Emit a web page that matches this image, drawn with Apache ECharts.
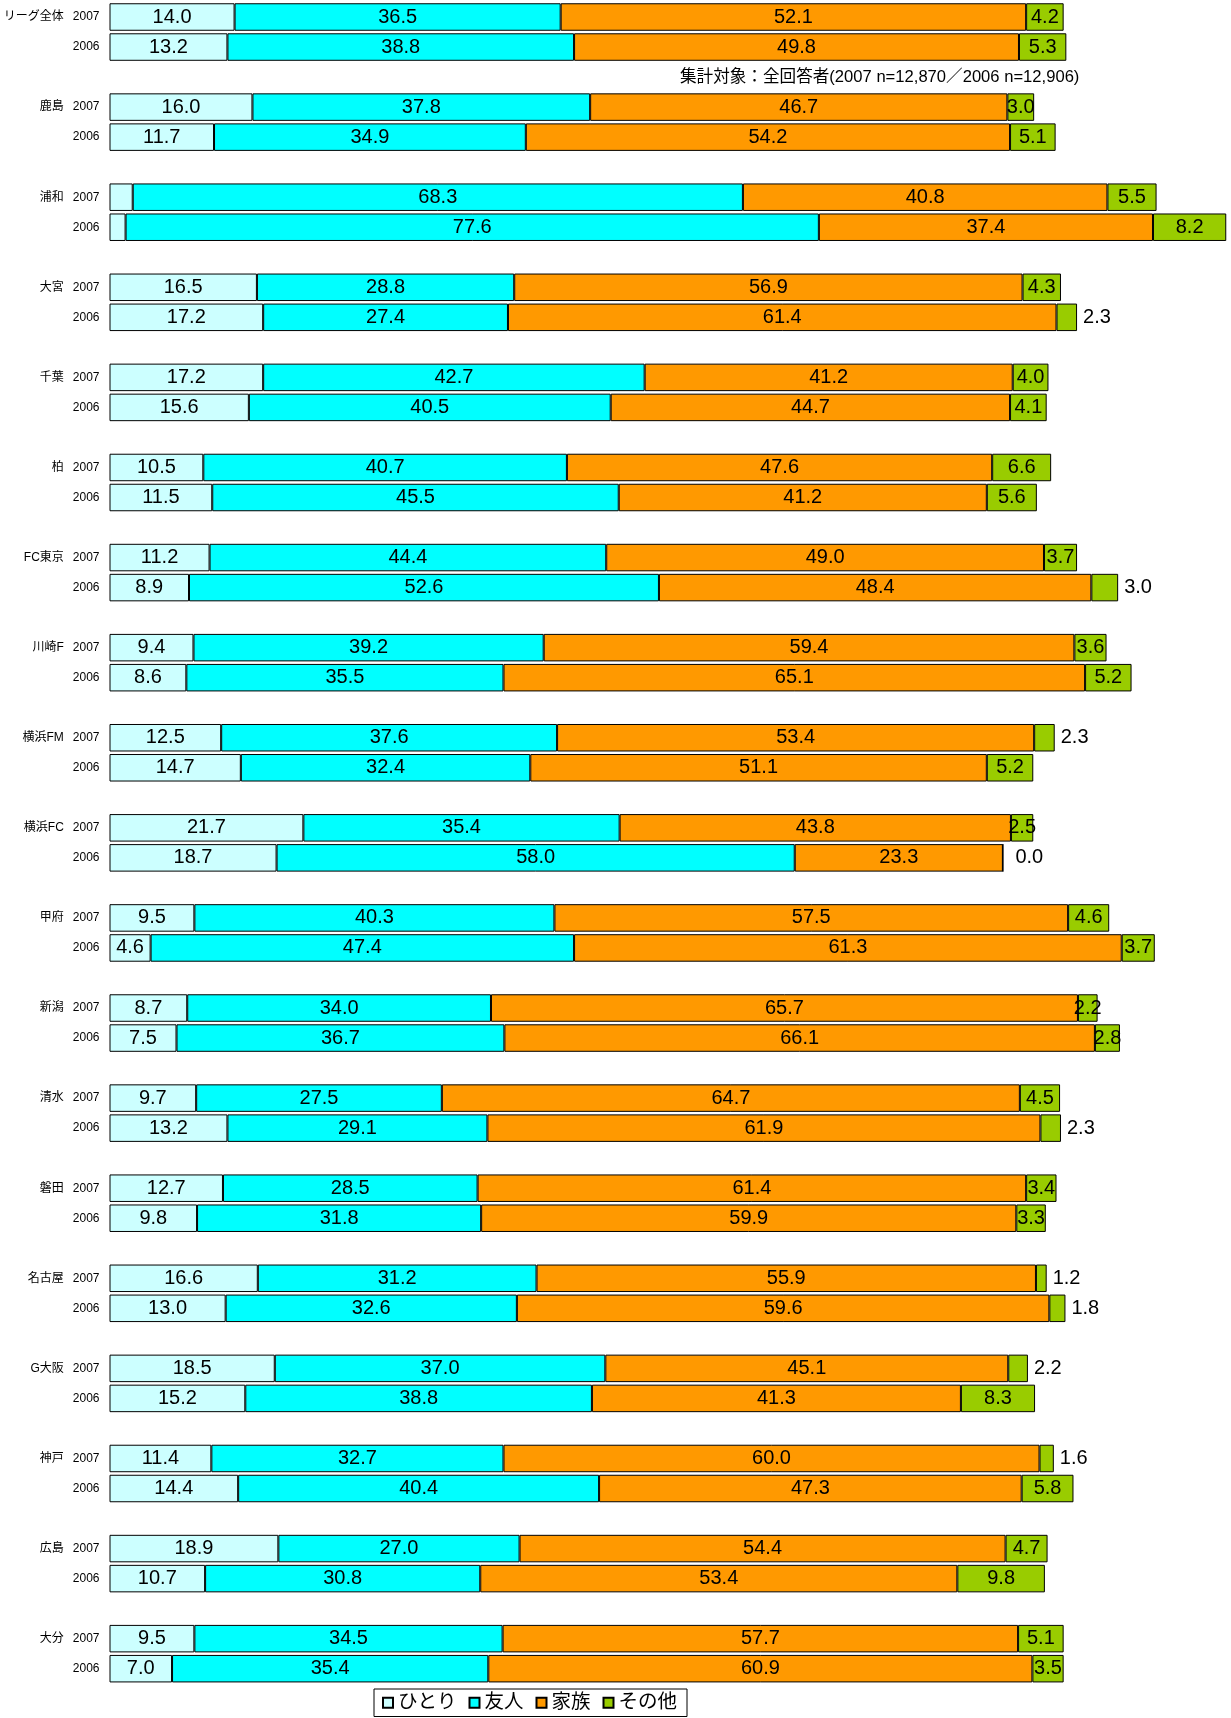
<!DOCTYPE html>
<html><head><meta charset="utf-8">
<script src="https://cdn.jsdelivr.net/npm/echarts/dist/echarts.min.js"></script>
<style>html,body{margin:0;padding:0;background:#fff}#c{width:1231px;height:1718px}</style>
</head><body><div id="c"></div>
<script>
const teams = ['リーグ全体','鹿島','浦和','大宮','千葉','柏','FC東京','川崎F','横浜FM','横浜FC','甲府','新潟','清水','磐田','名古屋','G大阪','神戸','広島','大分'];
const years = ['2007','2006'];
const seriesNames = ['ひとり','友人','家族','その他'];
const hitori07 = [14.0,16.0,2.6,16.5,17.2,10.5,11.2,9.4,12.5,21.7,9.5,8.7,9.7,12.7,16.6,18.5,11.4,18.9,9.5];
const hitori06 = [13.2,11.7,1.8,17.2,15.6,11.5,8.9,8.6,14.7,18.7,4.6,7.5,13.2,9.8,13.0,15.2,14.4,10.7,7.0];
const yujin07 = [36.5,37.8,68.3,28.8,42.7,40.7,44.4,39.2,37.6,35.4,40.3,34.0,27.5,28.5,31.2,37.0,32.7,27.0,34.5];
const yujin06 = [38.8,34.9,77.6,27.4,40.5,45.5,52.6,35.5,32.4,58.0,47.4,36.7,29.1,31.8,32.6,38.8,40.4,30.8,35.4];
const kazoku07 = [52.1,46.7,40.8,56.9,41.2,47.6,49.0,59.4,53.4,43.8,57.5,65.7,64.7,61.4,55.9,45.1,60.0,54.4,57.7];
const kazoku06 = [49.8,54.2,37.4,61.4,44.7,41.2,48.4,65.1,51.1,23.3,61.3,66.1,61.9,59.9,59.6,41.3,47.3,53.4,60.9];
const sonota07 = [4.2,3.0,5.5,4.3,4.0,6.6,3.7,3.6,2.3,2.5,4.6,2.2,4.5,3.4,1.2,2.2,1.6,4.7,5.1];
const sonota06 = [5.3,5.1,8.2,2.3,4.1,5.6,3.0,5.2,5.2,0.0,3.7,2.8,2.3,3.3,1.8,8.3,5.8,9.8,3.5];
// label placement notes (not data)
const outside07 = ['横浜FM','名古屋','G大阪','神戸'];
const outside06 = ['大宮','FC東京','横浜FC','清水','名古屋'];
const noLabel = ['浦和'];
const subtitle = '集計対象：全回答者(2007 n=12,870／2006 n=12,906)';

const FONT = "'Liberation Sans','Noto Sans CJK JP',sans-serif";
const colors = ['#CCFFFF','#00FFFF','#FF9900','#99CC00'];

const categories = [];
teams.forEach((t, i) => {
  categories.push(i + '|' + t + '|' + years[0]);
  categories.push(i + '||' + years[1]);
  if (i < teams.length - 1) categories.push(i + '|gap|');
});

function build(a07, a06, kind) {
  const out = [];
  teams.forEach((t, i) => {
    [[a07[i], outside07], [a06[i], outside06]].forEach(([v, outs]) => {
      const item = { value: v };
      if (kind === 'hitori' && noLabel.includes(t)) item.label = { show: false };
      if (kind === 'sonota' && outs.includes(t)) item.label = { position: 'right', distance: v === 0 ? 12 : 6 };
      out.push(item);
    });
    if (i < teams.length - 1) out.push(null);
  });
  return out;
}

const dataSets = [
  build(hitori07, hitori06, 'hitori'),
  build(yujin07, yujin06, 'yujin'),
  build(kazoku07, kazoku06, 'kazoku'),
  build(sonota07, sonota06, 'sonota')
];

const series = seriesNames.map((n, k) => ({
  name: n,
  type: 'bar',
  stack: 'all',
  barWidth: 27.5,
  data: dataSets[k],
  itemStyle: { color: colors[k], borderColor: '#000', borderWidth: 1 },
  label: {
    show: true, position: 'inside', color: '#000',
    fontSize: 20, fontFamily: FONT,
    formatter: p => (p.value == null ? '' : Number(p.value).toFixed(1))
  },
  emphasis: { disabled: true }
}));

const chart = echarts.init(document.getElementById('c'), null, { renderer: 'canvas' });
chart.setOption({
  animation: false,
  backgroundColor: '#fff',
  grid: { left: 109.5, top: 2, width: 1116.75, height: 1681.7, containLabel: false },
  xAxis: { type: 'value', min: 0, max: 125, show: false },
  yAxis: {
    type: 'category', inverse: true, data: categories,
    axisLine: { show: false }, axisTick: { show: false },
    axisLabel: {
      margin: 10, interval: 0, fontFamily: FONT, fontSize: 12, color: '#000',
      formatter: v => {
        const p = v.split('|');
        if (p[1] === 'gap') return '';
        return (p[1] ? '{n|' + p[1] + '}' : '') + '{y|' + p[2] + '}';
      },
      rich: {
        n: { fontFamily: FONT, fontSize: 12, color: '#000', padding: [0, 9, 0, 0] },
        y: { fontFamily: FONT, fontSize: 12, color: '#000' }
      }
    }
  },
  legend: {
    left: 374, top: 1689,
    orient: 'horizontal',
    borderColor: '#000', borderWidth: 1,
    padding: [4, 10, 4, 8],
    itemGap: 12, itemWidth: 10, itemHeight: 10,
    icon: 'rect',
    textStyle: { fontSize: 19.5, fontFamily: FONT, color: '#000' },
    data: seriesNames
  },
  graphic: [{
    type: 'text', left: 680, top: 69,
    style: { text: subtitle, fontSize: 16.6, fontFamily: FONT, fill: '#000' }
  }],
  series
});
</script></body></html>
